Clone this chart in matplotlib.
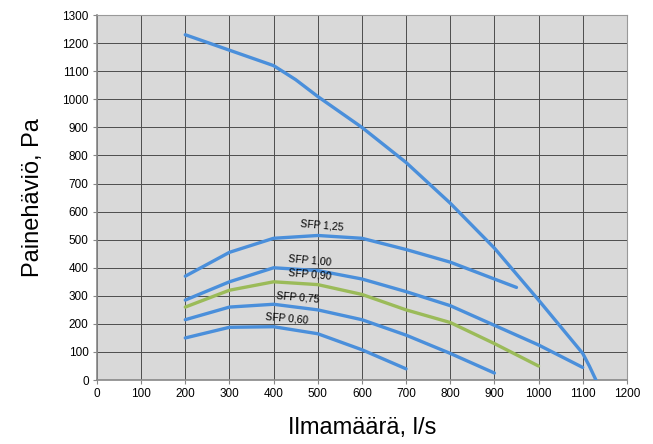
import matplotlib
matplotlib.use("Agg")
import matplotlib.pyplot as plt

plt.rcParams['font.family'] = ['Liberation Sans', 'DejaVu Sans']

# fan curve
fan_x = [200, 300, 400, 450, 500, 600, 700, 800, 900, 1000, 1100, 1115, 1130]
fan_y = [1230, 1175, 1120, 1070, 1010, 900, 775, 630, 470, 285, 95, 50, 0]

# SFP curves
sfp125_x = [200, 300, 400, 500, 600, 700, 800, 900, 950]
sfp125_y = [370, 455, 505, 515, 505, 465, 420, 360, 330]
sfp100_x = [200, 300, 400, 500, 600, 700, 800, 900, 1000, 1100]
sfp100_y = [285, 350, 400, 390, 360, 315, 265, 195, 125, 45]
sfp090_x = [200, 300, 400, 500, 600, 700, 800, 900, 1000]
sfp090_y = [260, 320, 350, 340, 305, 250, 205, 130, 50]
sfp075_x = [200, 300, 400, 500, 600, 700, 800, 900]
sfp075_y = [215, 260, 270, 250, 215, 160, 95, 25]
sfp060_x = [200, 300, 400, 500, 600, 700]
sfp060_y = [150, 188, 190, 165, 108, 40]

labels = ['SFP 1,25', 'SFP 1,00', 'SFP 0,90', 'SFP 0,75', 'SFP 0,60']
label_x = [509, 482, 482, 455, 430]
label_y = [550, 428, 375, 293, 218]

blue = '#4a8fdb'
green = '#9bbb59'

fig = plt.figure(figsize=(6.53, 4.44), dpi=100)
ax = fig.add_axes([0.1485, 0.144, 0.8115, 0.822])
ax.set_facecolor('#d9d9d9')

lw = 2.4
kw = dict(lw=lw, solid_capstyle='round', solid_joinstyle='round', zorder=3)
ax.plot(fan_x, fan_y, color=blue, **kw)
ax.plot(sfp125_x, sfp125_y, color=blue, **kw)
ax.plot(sfp100_x, sfp100_y, color=blue, **kw)
ax.plot(sfp090_x, sfp090_y, color=green, **kw)
ax.plot(sfp075_x, sfp075_y, color=blue, **kw)
ax.plot(sfp060_x, sfp060_y, color=blue, **kw)

for t, x, y in zip(labels, label_x, label_y):
    ax.text(x, y, t, fontsize=7.5, rotation=-5, ha='center', va='center', zorder=4)

ax.set_xlim(0, 1200)
ax.set_ylim(0, 1300)
ax.set_xticks(range(0, 1201, 100))
ax.set_yticks(range(0, 1301, 100))
ax.grid(True, color='#4d4d4d', lw=0.7)
ax.set_axisbelow(True)
ax.tick_params(labelsize=8.5, length=3, color='#888888', pad=3)

for s in ['top', 'right']:
    ax.spines[s].set_color('#999999')
for s in ['left', 'bottom']:
    ax.spines[s].set_color('#888888')
    ax.spines[s].set_linewidth(1.2)

ax.set_xlabel('Ilmamäärä, l/s', fontsize=17, labelpad=12)
ax.set_ylabel('Painehäviö, Pa', fontsize=17, labelpad=13)

fig.savefig('out.png', dpi=100)
